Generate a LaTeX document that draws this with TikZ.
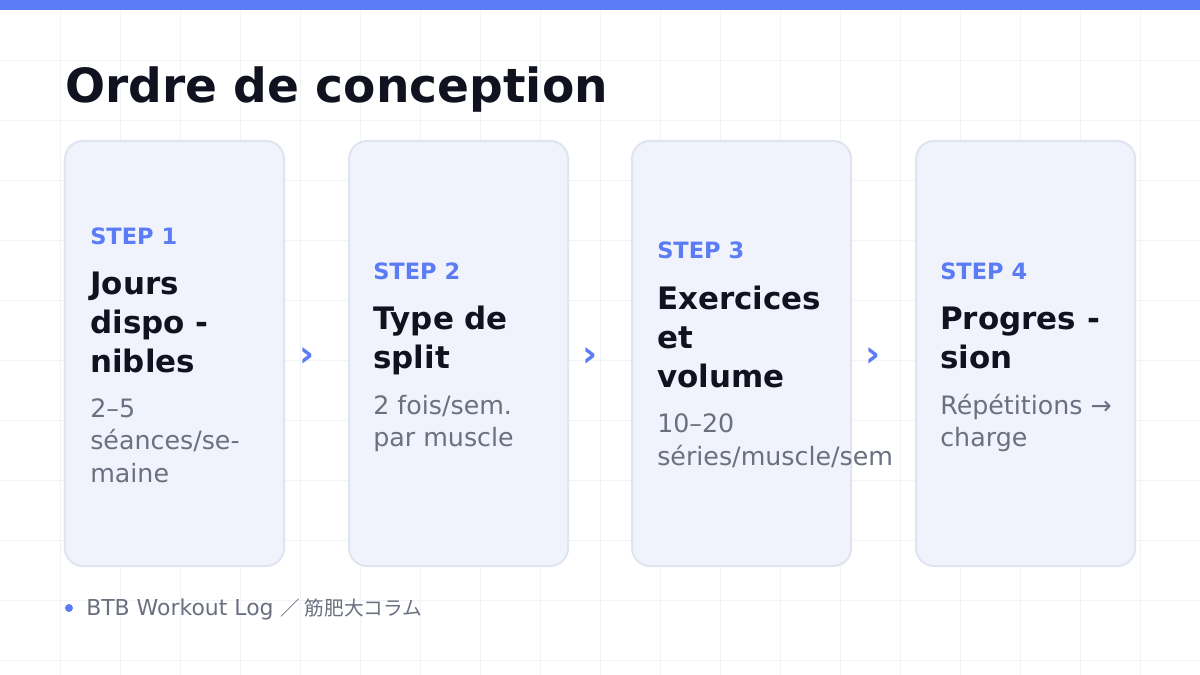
\documentclass[tikz,border=0pt]{standalone}
\usepackage{fontspec}
\setmainfont{DejaVu Sans}
\newfontfamily\cjk{Noto Sans CJK JP}
\usetikzlibrary{positioning}

\definecolor{bleu}{HTML}{5B7CF5}
\definecolor{encre}{HTML}{10131F}
\definecolor{gris}{HTML}{6B7080}
\definecolor{fondcarte}{HTML}{F0F3FC}
\definecolor{bordcarte}{HTML}{E0E4F0}
\definecolor{grille}{HTML}{F2F3F7}

\tikzset{
  carte/.style={draw=bordcarte, line width=1.4pt, fill=fondcarte, rounded corners=0.45cm,
    minimum width=5.475cm, minimum height=10.625cm, inner sep=0pt},
  etape/.style={anchor=base west, inner sep=0pt, text=bleu, font=\fontsize{16}{19}\selectfont\bfseries},
  titre/.style={anchor=base west, inner sep=0pt, align=left, text=encre,
    font=\fontsize{22}{27.4}\selectfont\bfseries},
  texte/.style={anchor=base west, inner sep=0pt, align=left, text=gris,
    font=\fontsize{18}{22.8}\selectfont},
  fleche/.style={inner sep=0pt, text=bleu, font=\fontsize{26}{30}\selectfont\bfseries},
}

\begin{document}
\begin{tikzpicture}[x=0.025cm, y=-0.025cm]
  \useasboundingbox (0,0) rectangle (1200,675);
  \fill[white] (0,0) rectangle (1200,675);

  % grille de fond
  \foreach \k in {60,120,...,1140}
    \draw[grille, line width=0.7pt] (\k,0) -- (\k,675);
  \foreach \k in {60,120,...,660}
    \draw[grille, line width=0.7pt] (0,\k) -- (1200,\k);

  % bandeau
  \fill[bleu] (0,0) rectangle (1200,10);

  % titre
  \node[anchor=base west, inner sep=0pt, text=encre, font=\fontsize{33.5}{40}\selectfont\bfseries]
    (titre) at (65,103) {Ordre de conception};

  % cartes
  \node[carte] (c1) at (174.5,353.5) {};
  \node[carte, right=1.575cm of c1] (c2) {};
  \node[carte, right=1.55cm of c2] (c3) {};
  \node[carte, right=1.575cm of c3] (c4) {};

  % textes des cartes (ancre = ligne de base de la derniere ligne)
  \foreach \tx/\sy/\nt/\nb/\titre/\corps [count=\i] in {
    90/244/3/3/{Jours\\dispo -\\nibles}/{2–5\\séances/se-\\maine},
    373/279/2/2/{Type de\\split}/{2 fois/sem.\\par muscle},
    657/259/3/2/{Exercices\\et\\volume}/{10–20\\séries/muscle/sem},
    940/279/2/2/{Progres -\\sion}/{Répétitions →\\charge}}
  {
    \node[etape] (s\i) at (\tx,\sy) {STEP \i};
    \node[titre] (t\i) at (\tx,{\sy+51+(\nt-1)*38.5}) {\titre};
    \node[texte] (b\i) at (\tx,{\sy+97+(\nt-1)*38.5+(\nb-1)*32}) {\corps};
  }

  % chevrons
  \node[fleche] (a1) at (307,357) {›};
  \node[fleche] (a2) at (590,357) {›};
  \node[fleche] (a3) at (873,357) {›};

  % pied
  \node[circle, fill=bleu, inner sep=0pt, minimum size=0.2cm] (point) at (69,608) {};
  \node[anchor=base west, inner sep=0pt, text=gris, font=\fontsize{15.6}{18}\selectfont]
    (pied) at (86,615) {BTB Workout Log {\cjk\fontsize{14}{17}\selectfont ／ 筋肥大コラム}};
\end{tikzpicture}
\end{document}
